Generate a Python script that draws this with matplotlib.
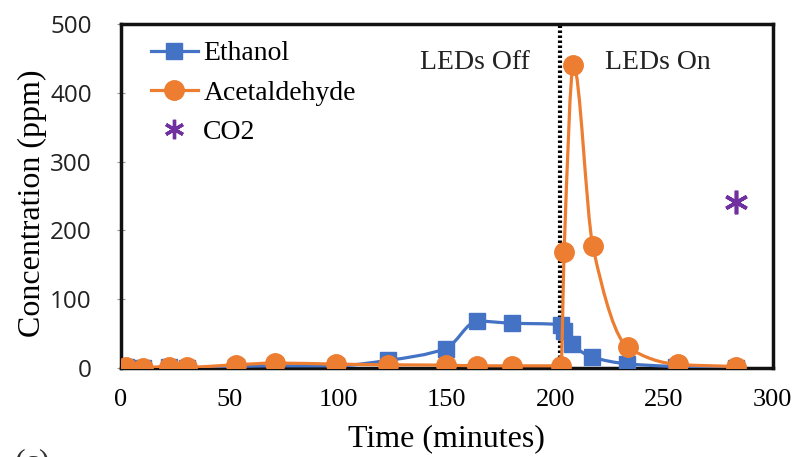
import numpy as np
import matplotlib
matplotlib.use('Agg')
import matplotlib.pyplot as plt
from matplotlib.path import Path
from matplotlib.patches import PathPatch
from matplotlib.lines import Line2D

# Data
ethanol_t = [2.6, 10.3, 22.2, 30.3, 52.9, 71, 98.8, 123, 149.5, 164, 180, 202.4, 204, 207.5, 216.8, 232.8, 255.5, 283]
ethanol_c = [1, 0, 1, 0, 2, 3, 3, 11, 28, 68, 65, 63, 53, 35, 16, 6, 2, 0]
acet_t = [2.6, 10.3, 22.2, 30.3, 52.9, 71, 98.8, 123, 149.5, 164, 180, 202.6, 204, 208.3, 217.2, 233.3, 256.4, 283]
acet_c = [2, 0.5, 2, 1, 4.5, 7, 5.5, 4.5, 4, 3, 3, 3, 169, 440, 177, 30, 5, 2]
co2_t = [283]
co2_c = [242]
led_switch = 202

BLUE = '#4472C4'
ORANGE = '#ED7D31'
PURPLE = '#7030A0'
SERIF = ['Liberation Serif', 'DejaVu Serif']
SANS = ['Open Sans', 'DejaVu Sans']


def pchip_slopes(x, y):
    # monotone (Fritsch-Carlson) tangents, used only to shape the smoothed line
    x = np.asarray(x, float)
    y = np.asarray(y, float)
    h = np.diff(x)
    d = np.diff(y) / h
    m = np.zeros_like(y)
    m[0], m[-1] = d[0], d[-1]
    for i in range(1, len(x) - 1):
        if d[i - 1] * d[i] <= 0:
            m[i] = 0
        else:
            w1 = 2 * h[i] + h[i - 1]
            w2 = h[i] + 2 * h[i - 1]
            m[i] = (w1 + w2) / (w1 / d[i - 1] + w2 / d[i])
    return m


def smooth_path(x, y):
    m = pchip_slopes(x, y)
    verts = [(x[0], y[0])]
    codes = [Path.MOVETO]
    for i in range(len(x) - 1):
        h = x[i + 1] - x[i]
        verts += [(x[i] + h / 3, y[i] + m[i] * h / 3),
                  (x[i + 1] - h / 3, y[i + 1] - m[i + 1] * h / 3),
                  (x[i + 1], y[i + 1])]
        codes += [Path.CURVE4] * 3
    return Path(verts, codes)


fig = plt.figure(figsize=(7.95, 4.57), dpi=100)
ax = fig.add_axes([0.152, 0.195, 0.82, 0.752])

ax.axvline(led_switch, color='black', lw=3, linestyle=(0, (0.6, 0.6)), zorder=2)

ax.add_patch(PathPatch(smooth_path(ethanol_t, ethanol_c), fc='none', ec=BLUE, lw=2.3, zorder=3))
ax.plot(ethanol_t, ethanol_c, ls='none', marker='s', ms=12, color=BLUE, zorder=4)
ax.add_patch(PathPatch(smooth_path(acet_t, acet_c), fc='none', ec=ORANGE, lw=2.3, zorder=5))
ax.plot(acet_t, acet_c, ls='none', marker='o', ms=14, color=ORANGE, zorder=6)
ax.plot(co2_t, co2_c, ls='none', marker=(6, 2, 0), ms=17, mew=2.6, color=PURPLE, zorder=6)

ax.set_xlim(0, 300)
ax.set_ylim(0, 500)
ax.set_xticks([0, 50, 100, 150, 200, 250, 300])
ax.set_yticks([0, 100, 200, 300, 400, 500])
ax.tick_params(axis='x', length=0, pad=15, labelsize=19)
ax.tick_params(axis='y', direction='inout', length=6, color='#999999', pad=18, labelsize=17.5)
for lab in ax.get_xticklabels():
    lab.set_family(SERIF)
for lab in ax.get_yticklabels():
    lab.set_family(SANS)
    lab.set_color('#222222')

for s in ax.spines.values():
    s.set_linewidth(2.5)
    s.set_color('#111111')

ax.set_xlabel('Time (minutes)', family=SERIF, fontsize=23)
ax.xaxis.set_label_coords(0.5, -0.163)
ax.set_ylabel('Concentration (ppm)', family=SERIF, fontsize=23)
ax.yaxis.set_label_coords(-0.113, 0.48)

ax.text(163, 445, 'LEDs Off', family=SERIF, fontsize=20,
        ha='center', va='center', color='#222222')
ax.text(247, 445, 'LEDs On', family=SERIF, fontsize=20,
        ha='center', va='center', color='#222222')

handles = [
    Line2D([], [], color=BLUE, lw=2.3, marker='s', ms=12),
    Line2D([], [], color=ORANGE, lw=2.3, marker='o', ms=14),
    Line2D([], [], ls='none', color=PURPLE, marker=(6, 2, 0), ms=14, mew=2.4),
]
ax.legend(handles, ['Ethanol', 'Acetaldehyde', 'CO2'], loc='upper left',
          bbox_to_anchor=(0.02, 1.0), frameon=False, handlelength=1.7,
          handletextpad=0.2, labelspacing=0.5, borderaxespad=0.2,
          prop={'family': SERIF, 'size': 20})

# panel letter, cut by the bottom edge as in the reference
fig.text(0.018, -0.012, '(c)', family=SERIF, fontsize=23, va='center', color='#333333')

fig.savefig('out.png', dpi=100)
